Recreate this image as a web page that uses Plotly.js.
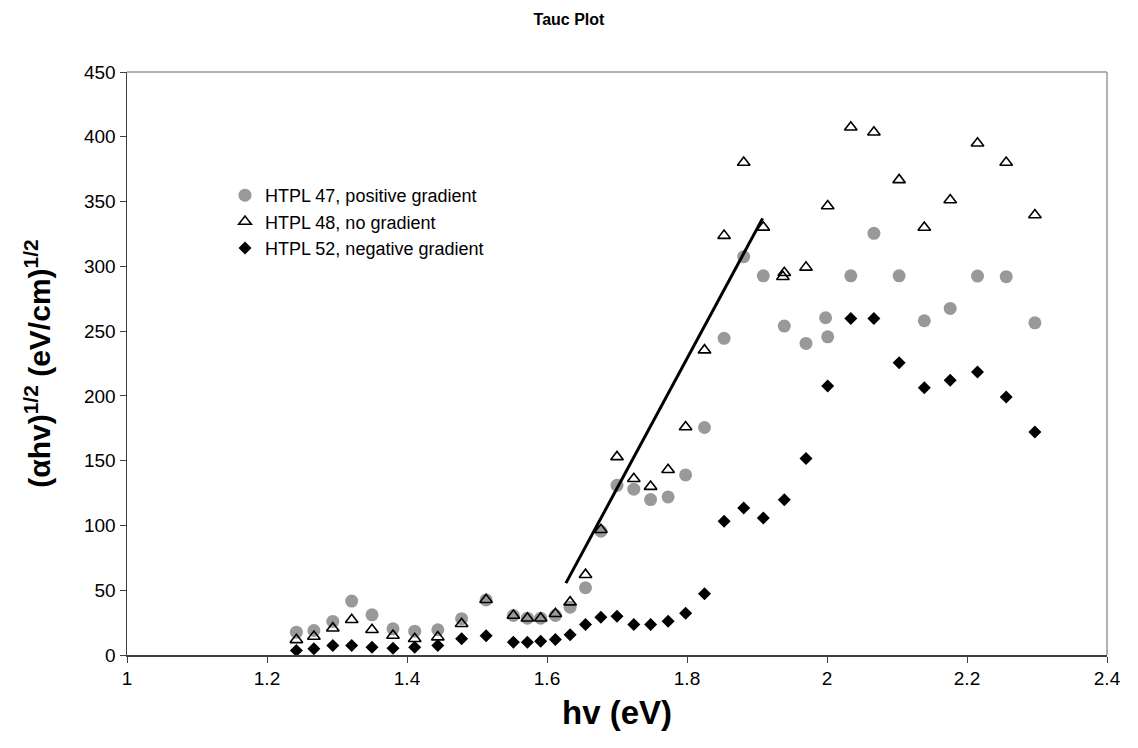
<!DOCTYPE html>
<html><head><meta charset="utf-8">
<script src="https://cdn.plot.ly/plotly-3.0.1.min.js"></script>
<style>body{margin:0;background:#fff}#chart{width:1138px;height:748px}</style>
</head><body><div id="chart"></div>
<script>
const seriesNames = ["HTPL 47, positive gradient", "HTPL 48, no gradient", "HTPL 52, negative gradient"];

const x47 = [1.242,1.267,1.294,1.321,1.350,1.380,1.411,1.444,1.478,1.513,1.552,1.572,1.591,1.612,1.633,1.655,1.677,1.700,1.724,1.748,1.773,1.798,1.825,1.853,1.881,1.909,1.939,1.970,1.998,2.001,2.034,2.067,2.103,2.139,2.176,2.215,2.256,2.297];
const y47 = [17.6,18.9,25.9,41.6,31.0,20.2,18.4,19.5,28.0,42.5,30.5,28.4,28.4,30.5,36.9,51.9,95.5,131,128,120,122,139,175.6,244.4,307.4,292.7,253.9,240.5,260.3,245.6,292.7,325.5,292.7,258,267.5,292.5,292,256.4];

const x48 = [1.242,1.267,1.294,1.321,1.350,1.380,1.411,1.444,1.478,1.513,1.552,1.572,1.591,1.612,1.633,1.655,1.677,1.700,1.724,1.748,1.773,1.798,1.825,1.853,1.881,1.909,1.937,1.939,1.970,2.001,2.034,2.067,2.103,2.139,2.176,2.215,2.256,2.297];
const y48 = [11.7,14.3,20.7,27.2,19.5,15.1,12.5,13.8,24.1,42.6,30.5,28.4,28.4,31.8,40.8,62.0,96.7,152.9,136,130,143,176,235.3,323.7,380.1,330.1,292,295,299.2,346.6,407.4,403.5,366.7,330,351.2,395,380.1,339.6];

const x52 = [1.242,1.267,1.294,1.321,1.350,1.380,1.411,1.444,1.478,1.513,1.552,1.572,1.591,1.612,1.633,1.655,1.677,1.700,1.724,1.748,1.773,1.798,1.825,1.853,1.881,1.909,1.939,1.970,2.001,2.034,2.067,2.103,2.139,2.176,2.215,2.256,2.297];
const y52 = [3.5,4.8,7.3,7.3,6.0,5.3,6.0,7.3,12.5,14.8,9.9,9.9,10.7,12.0,15.6,23.6,29.2,30.0,23.6,23.6,26.1,32.3,47.3,103.2,113.5,105.7,119.9,151.6,207.7,259.8,259.8,225.5,206.2,212.1,218.5,199.2,172.2];

const fitX = [1.627, 1.908];
const fitY = [55.5, 337];

const xTickVals = [1, 1.2, 1.4, 1.6, 1.8, 2, 2.2, 2.4];
const yTickVals = [0, 50, 100, 150, 200, 250, 300, 350, 400, 450];

const FONT = "Arial, 'Liberation Sans', Helvetica, sans-serif";

const traces = [
  {x: x47, y: y47, name: seriesNames[0], type: 'scatter', mode: 'markers',
   marker: {symbol: 'circle', size: 13, color: '#999999'}},
  {x: x48, y: y48, name: seriesNames[1], type: 'scatter', mode: 'markers',
   marker: {symbol: 'triangle-up-open', size: 11, color: '#000000', line: {width: 1.6, color: '#000000'}}},
  {x: x52, y: y52, name: seriesNames[2], type: 'scatter', mode: 'markers',
   marker: {symbol: 'diamond', size: 10, color: '#000000'}},
  {x: fitX, y: fitY, type: 'scatter', mode: 'lines', showlegend: false, hoverinfo: 'skip',
   line: {color: '#000000', width: 3}}
];

const layout = {
  width: 1138, height: 748,
  margin: {l: 127, r: 31, t: 72, b: 93},
  paper_bgcolor: '#ffffff', plot_bgcolor: '#ffffff',
  font: {family: FONT, color: '#000000'},
  title: {text: '<b>Tauc Plot</b>', font: {family: FONT, size: 16, color: '#000000'},
          x: 0.5, xref: 'container', xanchor: 'center', y: 1 - 19/748, yref: 'container', yanchor: 'middle'},
  xaxis: {
    range: [1, 2.4], tickvals: xTickVals, ticktext: xTickVals.map(String),
    showgrid: false, zeroline: false, showline: true, linecolor: '#404040', linewidth: 1.5,
    ticks: 'outside', ticklen: 6, tickcolor: '#404040', tickwidth: 1,
    tickfont: {family: FONT, size: 19, color: '#000000'},
    title: {text: '<b>hv (eV)</b>', font: {family: FONT, size: 33, color: '#000000'}, standoff: 12}
  },
  yaxis: {
    range: [0, 450], tickvals: yTickVals,
    showgrid: false, zeroline: false, showline: true, linecolor: '#404040', linewidth: 1.5,
    ticks: 'outside', ticklen: 6, tickcolor: '#404040', tickwidth: 1,
    tickfont: {family: FONT, size: 19, color: '#000000'},
    title: {text: '<b>(αhv)<sup>1/2</sup> (eV/cm)<sup>1/2</sup></b>', font: {family: FONT, size: 30, color: '#000000'}, standoff: 24}
  },
  shapes: [
    {type: 'line', xref: 'paper', yref: 'paper', x0: 0, x1: 1, y0: 1, y1: 1, line: {color: '#999999', width: 1.5}},
    {type: 'line', xref: 'paper', yref: 'paper', x0: 1, x1: 1, y0: 0, y1: 1, line: {color: '#999999', width: 1.5}}
  ],
  legend: {x: 0.10, y: 0.82, xanchor: 'left', yanchor: 'top', bgcolor: 'rgba(0,0,0,0)',
           font: {family: FONT, size: 18, color: '#000000'}, itemwidth: 30, tracegroupgap: 0},
  showlegend: true
};

Plotly.newPlot('chart', traces, layout, {displayModeBar: false, staticPlot: true});
</script>
</body></html>
